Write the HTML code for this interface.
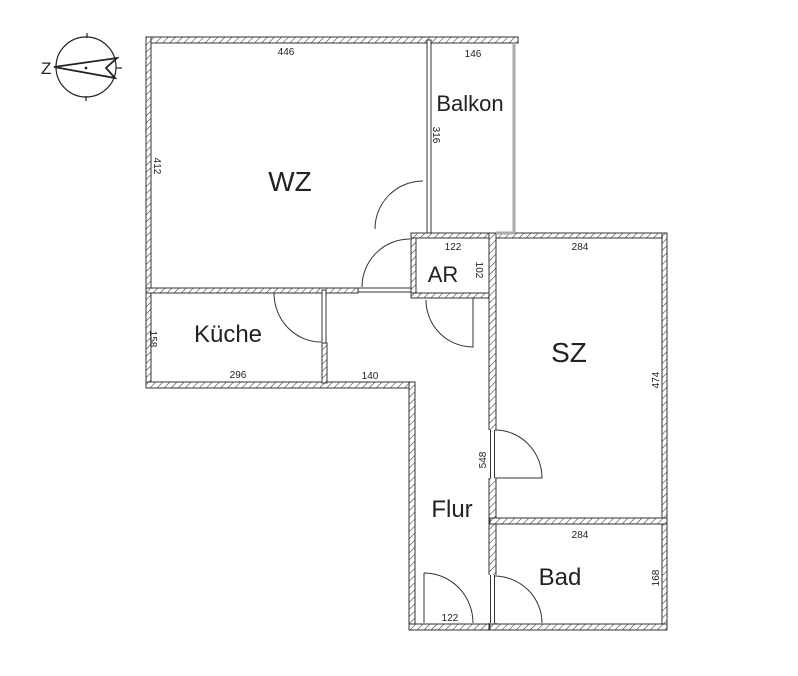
<!DOCTYPE html>
<html><head><meta charset="utf-8"><style>
html,body{margin:0;padding:0;background:#fff;width:798px;height:676px;overflow:hidden}
svg{display:block}
text{font-family:"Liberation Sans",sans-serif;fill:#222}
.d{font-size:10px}
.r{font-size:25px}
</style></head><body>
<svg width="798" height="676" viewBox="0 0 798 676" xmlns="http://www.w3.org/2000/svg">
<defs>
<pattern id="h" width="5" height="5" patternUnits="userSpaceOnUse" patternTransform="rotate(45)">
<rect width="5" height="5" fill="#fff"/><line x1="0" y1="0" x2="0" y2="5" stroke="#444" stroke-width="1.2"/>
</pattern>
</defs>
<g fill="url(#h)" stroke="#333" stroke-width="1">
<rect x="146" y="37" width="372" height="6"/>
<rect x="146" y="37" width="5" height="351"/>
<rect x="146" y="288" width="212" height="5"/>
<rect x="146" y="382" width="269" height="6"/>
<rect x="322" y="343" width="5" height="40"/>
<rect x="409" y="382" width="6" height="248"/>
<rect x="409" y="624" width="87" height="6"/>
<rect x="411" y="233" width="5" height="65"/>
<rect x="411" y="233" width="256" height="5"/>
<rect x="411" y="293" width="85" height="5"/>
<rect x="489" y="233" width="7" height="397"/>
<rect x="662" y="233" width="5" height="397"/>
<rect x="490" y="518" width="177" height="6"/>
<rect x="490" y="624" width="177" height="6"/>
</g>
<g fill="#fff" stroke="#333" stroke-width="1">
<rect x="427" y="40" width="4" height="193"/>
<rect x="358" y="288" width="53" height="4"/>
<rect x="322" y="290" width="4" height="53"/>
</g>
<line x1="514" y1="43" x2="514" y2="233" stroke="#aaa" stroke-width="3"/>
<line x1="496" y1="233" x2="514" y2="233" stroke="#aaa" stroke-width="3"/>
<rect x="488" y="430" width="9" height="48" fill="#fff"/>
<rect x="488" y="575" width="9" height="48" fill="#fff"/>
<g stroke="#333" stroke-width="1">
<line x1="490.5" y1="430" x2="490.5" y2="478"/>
<line x1="494.5" y1="430" x2="494.5" y2="478"/>
<line x1="490.5" y1="575" x2="490.5" y2="623"/>
<line x1="494.5" y1="575" x2="494.5" y2="623"/>
</g>
<g fill="none" stroke="#333" stroke-width="1">
<path d="M375 229 A48 48 0 0 1 423 181"/>
<path d="M362 287 A48 48 0 0 1 410 239"/>
<path d="M274 293 A47 49 0 0 0 321 342"/>
<path d="M426 300 A47 47 0 0 0 473 347 L473 298"/>
<path d="M495 430 A47 48 0 0 1 542 478 L495 478"/>
<path d="M424 573 A49 50 0 0 1 473 623 M424 573 L424 623"/>
<path d="M494 576 A48 47 0 0 1 542 623"/>
</g>
<g fill="none" stroke="#222" stroke-width="1.2">
<circle cx="86" cy="67" r="30"/>
<line x1="87" y1="33" x2="87" y2="38"/>
<line x1="86" y1="96" x2="86" y2="101"/>
<line x1="116" y1="68" x2="122" y2="68"/>
<path d="M54 67 L117 58 L106 68 L115 78 Z" stroke-width="1.8"/>
<circle cx="86" cy="68" r="0.8" fill="#222"/>
</g>
<text x="41" y="74" font-size="17">Z</text>
<text class="r" x="290" y="191" text-anchor="middle" style="font-size:28px">WZ</text>
<text class="r" x="470" y="111" text-anchor="middle" style="font-size:22px">Balkon</text>
<text class="r" x="443" y="282" text-anchor="middle" style="font-size:22px">AR</text>
<text class="r" x="228" y="342" text-anchor="middle" style="font-size:24px">Küche</text>
<text class="r" x="569" y="362" text-anchor="middle" style="font-size:28px">SZ</text>
<text class="r" x="452" y="517" text-anchor="middle" style="font-size:24px">Flur</text>
<text class="r" x="560" y="585" text-anchor="middle" style="font-size:24px">Bad</text>
<text class="d" x="286" y="55" text-anchor="middle">446</text>
<text class="d" x="473" y="57" text-anchor="middle">146</text>
<text class="d" x="453" y="250" text-anchor="middle">122</text>
<text class="d" x="580" y="250" text-anchor="middle">284</text>
<text class="d" x="238" y="378" text-anchor="middle">296</text>
<text class="d" x="370" y="379" text-anchor="middle">140</text>
<text class="d" x="580" y="538" text-anchor="middle">284</text>
<text class="d" x="450" y="621" text-anchor="middle">122</text>
<text class="d" transform="translate(154,166) rotate(90)" text-anchor="middle">412</text>
<text class="d" transform="translate(433,135) rotate(90)" text-anchor="middle">316</text>
<text class="d" transform="translate(476,270) rotate(90)" text-anchor="middle">102</text>
<text class="d" transform="translate(150,339) rotate(90)" text-anchor="middle">158</text>
<text class="d" transform="translate(486,460) rotate(-90)" text-anchor="middle">548</text>
<text class="d" transform="translate(659,380) rotate(-90)" text-anchor="middle">474</text>
<text class="d" transform="translate(659,578) rotate(-90)" text-anchor="middle">168</text>
</svg>
</body></html>
